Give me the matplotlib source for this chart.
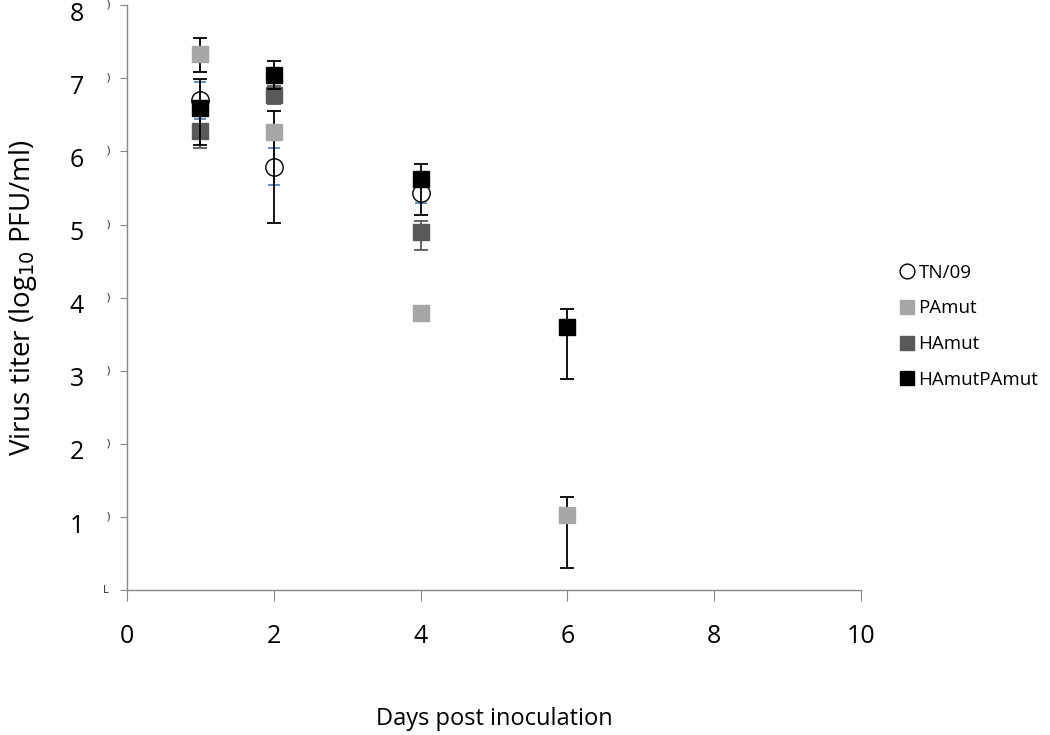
import numpy as np
import matplotlib.pyplot as plt
import matplotlib.transforms as mtransforms

plt.rcParams['font.family'] = ['Open Sans', 'DejaVu Sans']

# days post inoculation
days_tn = [1, 2, 4]
days_pa = [1, 2, 4, 6]
days_ha = [1, 2, 4]
days_hapa = [1, 2, 4, 6]

# virus titers (log10 PFU/ml) with lower / upper error
tn09 = [6.70, 5.79, 5.43]
tn09_lo = [0.25, 0.25, 0.14]
tn09_hi = [0.25, 0.25, 0.14]

pamut = [7.33, 6.27, 3.79, 1.03]
pamut_lo = [0.25, 1.25, 0.0, 0.73]
pamut_hi = [0.22, 0.28, 0.0, 0.24]

hamut = [6.28, 6.77, 4.90]
hamut_lo = [0.23, 0.12, 0.25]
hamut_hi = [0.23, 0.12, 0.15]

hapamut = [6.59, 7.05, 5.62, 3.60]
hapamut_lo = [0.50, 0.20, 0.49, 0.71]
hapamut_hi = [0.40, 0.19, 0.21, 0.24]

fig = plt.figure(figsize=(10.5, 7.35), dpi=100)
ax = fig.add_axes([0.121, 0.197, 0.699, 0.796])

ax.errorbar(days_ha, hamut, yerr=[hamut_lo, hamut_hi], fmt='s', color='#595959',
            mec='#595959', ecolor='#595959', elinewidth=1.3, capsize=5,
            capthick=1.3, markersize=12, label='HAmut', zorder=3)
ax.errorbar(days_tn, tn09, yerr=[tn09_lo, tn09_hi], fmt='o', color='black',
            mfc='white', mec='black', ecolor='#4a7ebb', elinewidth=1.2,
            capsize=4, capthick=1.2, markersize=12.5,
            label='TN/09', zorder=4)
ax.errorbar(days_pa, pamut, yerr=[pamut_lo, pamut_hi], fmt='s', color='#a6a6a6',
            mec='#a6a6a6', ecolor='black', elinewidth=1.3, capsize=5,
            capthick=1.3, markersize=12, label='PAmut', zorder=5)
ax.errorbar(days_hapa, hapamut, yerr=[hapamut_lo, hapamut_hi], fmt='s', color='black',
            mec='black', ecolor='black', elinewidth=1.3, capsize=5,
            capthick=1.3, markersize=12, label='HAmutPAmut', zorder=6)

ax.set_xlim(0, 10)
ax.set_ylim(0, 8)
ax.set_xticks([0, 2, 4, 6, 8, 10])
ax.set_yticks([0, 1, 2, 3, 4, 5, 6, 7, 8])
ax.set_yticklabels(['', '1', '2', '3', '4', '5', '6', '7', '8'])

for s in ['top', 'right']:
    ax.spines[s].set_visible(False)
for s in ['left', 'bottom']:
    ax.spines[s].set_color('#868686')
    ax.spines[s].set_linewidth(1.0)

ax.tick_params(axis='x', direction='out', length=8, color='#868686',
               labelsize=18, pad=16)
ax.tick_params(axis='y', direction='out', length=5, color='#868686',
               labelsize=18, pad=26)

# y tick labels sit a little below their ticks
shift = mtransforms.ScaledTranslation(0, -6 / 100, fig.dpi_scale_trans)
for lab in ax.get_yticklabels():
    lab.set_transform(lab.get_transform() + shift)

# small leftover marks next to the y ticks
trans = mtransforms.blended_transform_factory(ax.transAxes, ax.transData)
for v in range(1, 9):
    ax.text(-0.026, v, ')', transform=trans, fontsize=8, ha='center',
            va='center', color='#222222')
ax.text(-0.029, 0, 'L', transform=trans, fontsize=8, ha='center',
        va='center', color='#222222')

ax.set_xlabel('Days post inoculation', fontsize=17, labelpad=42)
ax.set_ylabel('Virus titer (log$_{10}$ PFU/ml)', fontsize=20, labelpad=22)

handles, labels = ax.get_legend_handles_labels()
order = [labels.index(n) for n in ['TN/09', 'PAmut', 'HAmut', 'HAmutPAmut']]
leg = ax.legend([handles[i][0] for i in order], [labels[i] for i in order],
                loc='center left', bbox_to_anchor=(1.04, 0.451), frameon=False,
                borderaxespad=0, fontsize=13.5, handletextpad=0.1,
                handlelength=1.0, labelspacing=0.95, markerscale=0.85)

fig.savefig('out.png', dpi=100)
